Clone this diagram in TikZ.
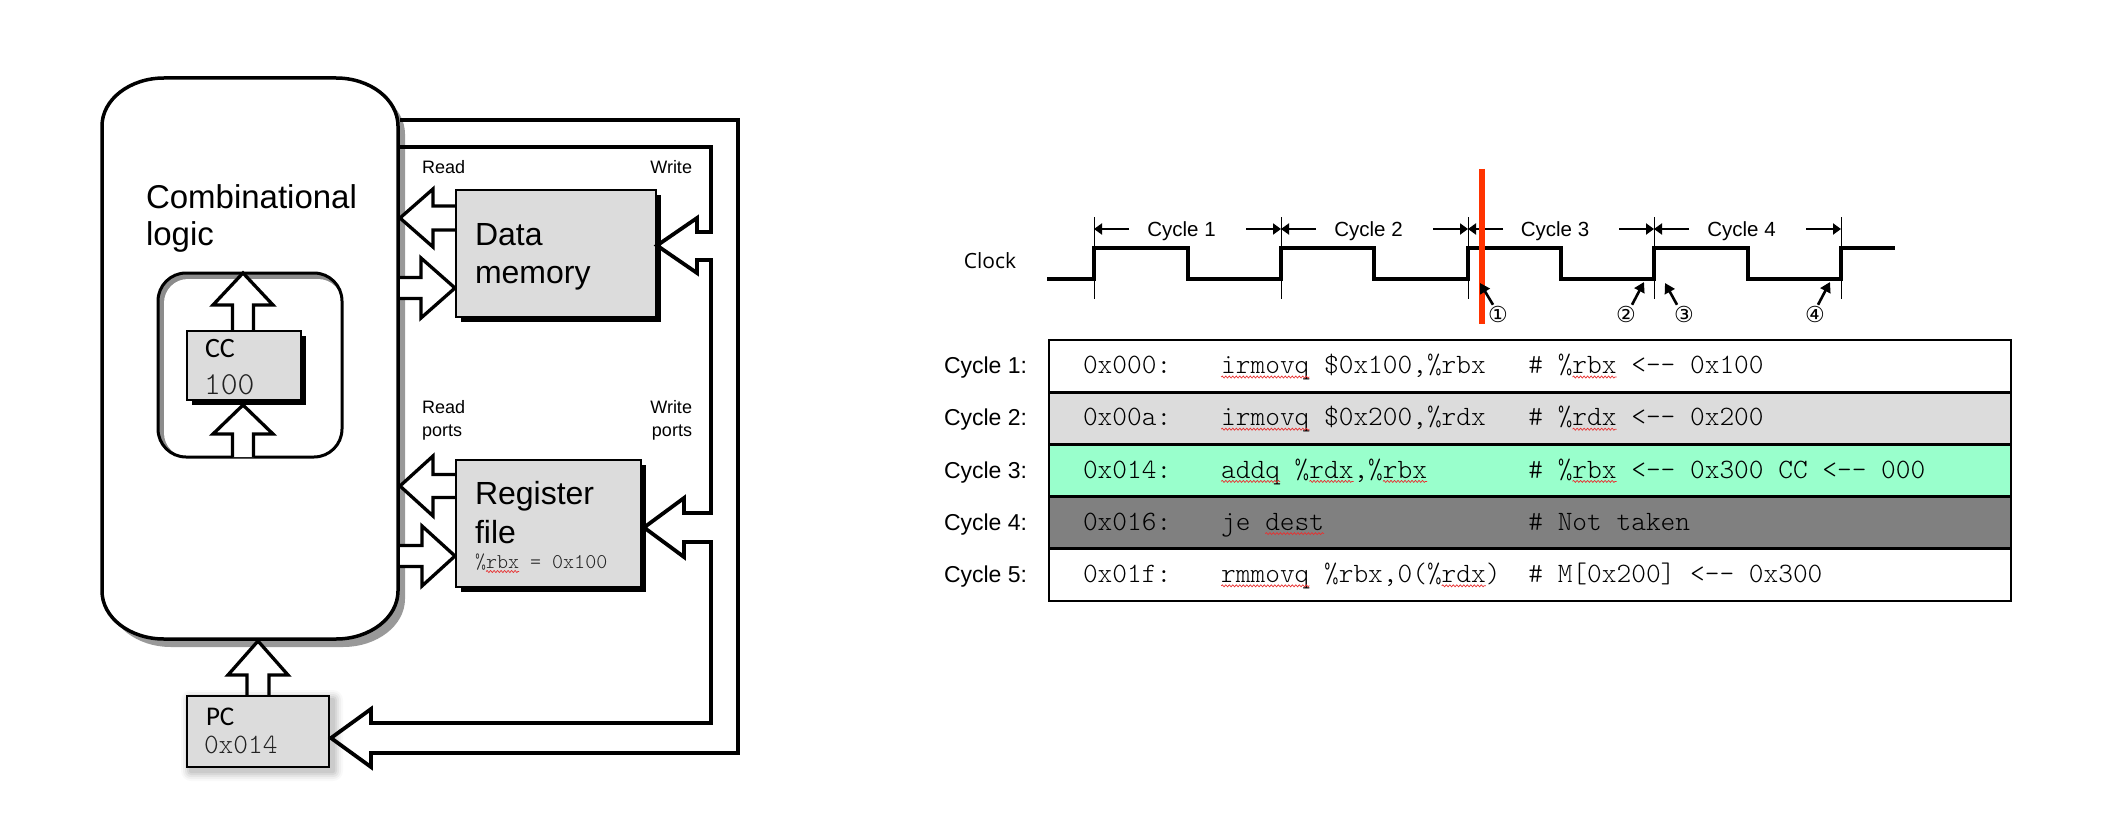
\documentclass[tikz,border=0pt]{standalone}
\usepackage{fontspec}
\setmainfont{Liberation Sans}
\newfontfamily\carlfnt{Carlito}
\newfontfamily\clockfnt{Open Sans}
\newfontfamily\circfnt{DejaVu Sans}
\usetikzlibrary{arrows.meta,shadows,decorations.pathmorphing}
\definecolor{boxgray}{HTML}{DCDCDC}
\definecolor{shadegray}{HTML}{999999}
\definecolor{insetgray}{HTML}{8C8C8C}
\definecolor{mint}{HTML}{99FFCC}
\definecolor{darkrow}{HTML}{808080}
\definecolor{redline}{HTML}{FF3300}
\definecolor{squigred}{HTML}{E83030}
\definecolor{txtgray}{HTML}{000000}
\definecolor{regtxt}{HTML}{222222}
\newcommand\fsz[1]{\fontsize{#1}{#1}\selectfont}
\newcommand\cour{\ttfamily\fontseries{l}\selectfont}
\newcommand\combpath{(164,78) -- (336,78) arc[start angle=270,end angle=360,x radius=62,y radius=48] -- (398,591) arc[start angle=0,end angle=90,x radius=62,y radius=48] -- (164,639) arc[start angle=90,end angle=180,x radius=62,y radius=48] -- (102,126) arc[start angle=180,end angle=270,x radius=62,y radius=48] -- cycle}
\newcommand\dsh{<-\kern0pt-}
\begin{document}
\begin{tikzpicture}[x=1pt,y=-1pt,
 lbl/.style={inner sep=0pt,outer sep=0pt},
 box/.style={draw,line width=2.2pt,fill=boxgray,inner sep=0pt,outer sep=0pt},
 bshadow/.style={drop shadow={shadow xshift=5pt,shadow yshift=-5pt,fill=black,opacity=1}},
 hollow/.style={draw,fill=white,line width=3.3pt,line join=miter},
 bus/.style={line width=3.8pt,line join=miter},
 wave/.style={line width=4pt,line join=miter},
 tick/.style={line width=1pt},
 cyc/.style={line width=2pt,-{Triangle[length=8pt,width=11pt]}},
 ptr/.style={line width=2.6pt,-{Triangle[length=10pt,width=11pt]}},
 squig/.style={draw=squigred,line width=0.7pt,decorate,decoration={snake,amplitude=1pt,segment length=3.5pt}},
 row/.style={draw,line width=2.8pt,minimum width=962pt,minimum height=52.2pt,anchor=north west,inner sep=0pt,outer sep=0pt},
 codetxt/.style={lbl,anchor=base west,text=txtgray,font=\cour\fsz{28}},
]
\useasboundingbox (0,0) rectangle (2118,840);
\fill[white] (0,0) rectangle (2118,840);

% ---------- left panel ----------
\fill[shadegray,shift={(7,8)}] \combpath;
\draw[line width=3.5pt,fill=white] \combpath;

% CC frame
\fill[insetgray,rounded corners=28pt] (158,273) rectangle (342,457);
\fill[white,rounded corners=24pt] (164,279) rectangle (342,457);
\draw[line width=3pt,rounded corners=28pt] (158,273) rectangle (342,457);

% CC arrows
\draw[hollow] (232.5,331) -- (232.5,305) -- (213,305) -- (243,273) -- (273,305) -- (253.5,305) -- (253.5,331);
\draw[hollow] (232.5,457) -- (232.5,434) -- (213,434) -- (243,405) -- (273,434) -- (253.5,434) -- (253.5,457);

% hollow arrows between combinational logic and boxes
\draw[hollow] (456,206) -- (433,206) -- (433,189) -- (400,218) -- (433,247) -- (433,230) -- (456,230);
\draw[hollow] (400,277.5) -- (421,277.5) -- (421,258) -- (455,288) -- (421,318) -- (421,298.5) -- (400,298.5);
\draw[hollow] (456,474.5) -- (433,474.5) -- (433,456) -- (400,486) -- (433,516) -- (433,497.5) -- (456,497.5);
\draw[hollow] (400,545.5) -- (422,545.5) -- (422,526) -- (455,556) -- (422,586) -- (422,566.5) -- (400,566.5);
% PC up arrow
\draw[hollow] (247,696) -- (247,675) -- (228,675) -- (258,641) -- (288,675) -- (269,675) -- (269,696);

% boxes
\node[box,bshadow,minimum width=200pt,minimum height=127pt,anchor=north west] (dm) at (456,190) {};
\node[box,bshadow,minimum width=185pt,minimum height=127pt,anchor=north west] (rf) at (456,460) {};
\node[box,bshadow,minimum width=114pt,minimum height=69pt,anchor=north west] (cc) at (187,331) {};
\foreach \e/\o in {10/0.025,8/0.035,6/0.045,4/0.055,2/0.06}
  \fill[black,opacity=\o,rounded corners=\e pt] (191-\e,700-\e) rectangle (333+\e,771+\e);
\node[box,line width=2pt,minimum width=142pt,minimum height=71pt,anchor=north west] (pc) at (187,696) {};

% bus
\draw[bus] (400,147) -- (711,147) -- (711,232) -- (697,232) -- (697,218) -- (657,245.5) -- (697,273) -- (697,260) -- (711,260)
  -- (711,513) -- (684,513) -- (684,498) -- (644,527.5) -- (684,557) -- (684,542) -- (711,542)
  -- (711,723) -- (371,723) -- (371,709) -- (331,738) -- (371,767) -- (371,753) -- (738,753) -- (738,120) -- (400,120);

% texts
\node[lbl,anchor=base west] (cl1) at (146,208) {\fsz{33}Combinational};
\node[lbl,anchor=base west] (cl2) at (146,245) {\fsz{33}logic};
\node[lbl,anchor=base west] (dm1) at (475,245) {\fsz{32}Data};
\node[lbl,anchor=base west] (dm2) at (475,283) {\fsz{32}memory};
\node[lbl,anchor=base west] (rf1) at (475,504) {\fsz{32}Register};
\node[lbl,anchor=base west] (rf2) at (475,543) {\fsz{32}file};
\node[lbl,anchor=base west,text=regtxt] (rf3) at (475,568) {\cour\fsz{21}\%rbx = 0x100};
\draw[squig] (486,571.5) -- (519,571.5);
\node[lbl,anchor=base west] (ccl) at (205,357) {\carlfnt\fsz{28}CC};
\node[lbl,anchor=base west,text=regtxt] (ccv) at (204,394) {\cour\fsz{32}100};
\node[lbl,anchor=base west] (pcl) at (206,725) {\carlfnt\fsz{27}PC};
\node[lbl,anchor=base west,text=regtxt] (pcv) at (204,753) {\cour\fsz{28}0x014};
\node[lbl,anchor=base west] (rd1) at (422,174) {\fsz{18}Read};
\node[lbl,anchor=base east] (wr1) at (692,174) {\fsz{18}Write};
\node[lbl,anchor=base west] (rd2) at (422,413) {\fsz{18}Read};
\node[lbl,anchor=base west] (rd3) at (422,436) {\fsz{18}ports};
\node[lbl,anchor=base east] (wr2) at (692,413) {\fsz{18}Write};
\node[lbl,anchor=base east] (wr3) at (692,436) {\fsz{18}ports};

% ---------- clock ----------
\node[lbl] (clk) at (990,261) {\clockfnt\fsz{21}Clock};
\foreach \x in {1094,1281,1468,1654,1841} \draw[tick] (\x,217) -- (\x,299);
\draw[wave] (1047,279) -- (1094,279) -- (1094,248) -- (1188,248) -- (1188,279) -- (1281,279) -- (1281,248) -- (1374,248) -- (1374,279)
  -- (1468,279) -- (1468,248) -- (1561,248) -- (1561,279) -- (1654,279) -- (1654,248) -- (1748,248) -- (1748,279) -- (1841,279) -- (1841,248) -- (1895,248);
\foreach \a/\b/\n in {1094/1281/1,1281/1468/2,1468/1654/3,1654/1841/4}{
  \draw[cyc] (\a+35,229) -- (\a,229);
  \draw[cyc] (\b-35,229) -- (\b,229);
  \node[lbl,anchor=base] (cy\n) at ({(\a+\b)/2-6},236) {\fsz{20.5}Cycle \n};
}
\draw[redline,line width=6pt] (1482,169) -- (1482,324);
\node[lbl] (n1) at (1498,314) {\circfnt\fsz{22}①};
\node[lbl] (n2) at (1626,314) {\circfnt\fsz{22}②};
\node[lbl] (n3) at (1684,314) {\circfnt\fsz{22}③};
\node[lbl] (n4) at (1815,314) {\circfnt\fsz{22}④};
\coordinate (p1) at (1480,283);
\coordinate (p2) at (1644,282);
\coordinate (p3) at (1665,283);
\coordinate (p4) at (1830,282);
\draw[ptr] ([shift={(-5,-1)}]n1.north) -- (p1);
\draw[ptr] ([shift={(6,-1)}]n2.north) -- (p2);
\draw[ptr] ([shift={(-7,-1)}]n3.north) -- (p3);
\draw[ptr] ([shift={(3,-1)}]n4.north) -- (p4);

% ---------- table ----------
\node[row,fill=white] (r1) at (1049,340) {};
\node[row,fill=boxgray] (r2) at (1049,392.2) {};
\node[row,fill=mint] (r3) at (1049,444.4) {};
\node[row,fill=darkrow] (r4) at (1049,496.6) {};
\node[row,fill=white] (r5) at (1049,548.8) {};

\node[lbl,anchor=base west] (l1) at (944,373.6) {\fsz{23}Cycle 1:};
\node[lbl,anchor=base west] (l2) at (944,425.8) {\fsz{23}Cycle 2:};
\node[lbl,anchor=base west] (l3) at (944,478) {\fsz{23}Cycle 3:};
\node[lbl,anchor=base west] (l4) at (944,530.2) {\fsz{23}Cycle 4:};
\node[lbl,anchor=base west] (l5) at (944,582.4) {\fsz{23}Cycle 5:};

\node[codetxt] (a1) at (1083,373.6) {0x000:};
\node[codetxt] (i1) at (1221.2,373.6) {irmovq \$0x100,\%rbx};
\node[codetxt] (k1) at (1528.4,373.6) {\# \%rbx \dsh{} 0x100};
\node[codetxt] (a2) at (1083,425.8) {0x00a:};
\node[codetxt] (i2) at (1221.2,425.8) {irmovq \$0x200,\%rdx};
\node[codetxt] (k2) at (1528.4,425.8) {\# \%rdx \dsh{} 0x200};
\node[codetxt] (a3) at (1083,478) {0x014:};
\node[codetxt] (i3) at (1221.2,478) {addq \%rdx,\%rbx};
\node[codetxt] (k3) at (1528.4,478) {\# \%rbx \dsh{} 0x300 CC \dsh{} 000};
\node[codetxt] (a4) at (1083,530.2) {0x016:};
\node[codetxt] (i4) at (1221.2,530.2) {je dest};
\node[codetxt] (k4) at (1528.4,530.2) {\# Not taken};
\node[codetxt] (a5) at (1083,582.4) {0x01f:};
\node[codetxt] (i5) at (1221.2,582.4) {rmmovq \%rbx,0(\%rdx)};
\node[codetxt] (k5) at (1528.4,582.4) {\# M[0x200] \dsh{} 0x300};

% spell-check squiggles
\draw[squig] (1221.2,377) -- (1309.4,377);
\draw[squig] (1572.5,377) -- (1616.6,377);
\draw[squig] (1221.2,429.2) -- (1309.4,429.2);
\draw[squig] (1572.5,429.2) -- (1616.6,429.2);
\draw[squig] (1221.2,481.4) -- (1280,481.4);
\draw[squig] (1309.4,481.4) -- (1353.5,481.4);
\draw[squig] (1382.9,481.4) -- (1427,481.4);
\draw[squig] (1572.5,481.4) -- (1616.6,481.4);
\draw[squig] (1265.3,533.6) -- (1324.1,533.6);
\draw[squig] (1221.2,585.8) -- (1309.4,585.8);
\draw[squig] (1441.7,585.8) -- (1485.8,585.8);
\end{tikzpicture}
\end{document}
